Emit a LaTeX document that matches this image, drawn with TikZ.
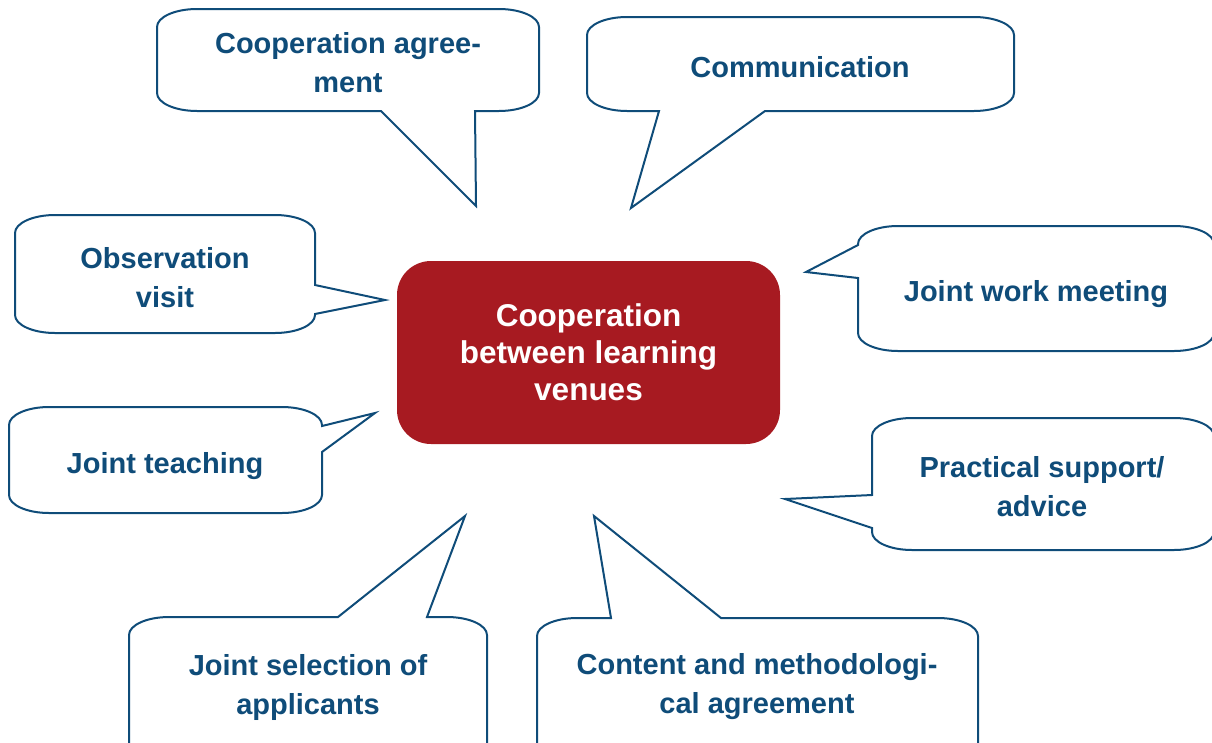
\documentclass[tikz,border=0pt]{standalone}
\usepackage{fontspec}
\setmainfont{Liberation Sans}
\definecolor{calloutblue}{HTML}{0F4C79}
\definecolor{hubred}{HTML}{A71A21}
\tikzset{
  bubbleline/.style={draw=calloutblue, line width=2pt, fill=white, line join=miter},
  bubbletext/.style={text=calloutblue, align=center, font=\fontsize{29}{39}\selectfont\bfseries, inner sep=0pt},
  hub/.style={fill=hubred, rounded corners=34pt, minimum width=383pt, minimum height=183pt,
    text=white, align=center, font=\fontsize{31.5}{37}\selectfont\bfseries, inner sep=0pt}
}
% speech bubble: left, top, right, bottom, then the pointer pieces inserted on
% the top, right, bottom and left sides (traced clockwise)
\newcommand{\bubble}[8]{%
  \draw[bubbleline] (#1+40,-#2) #5 -- (#3-40,-#2)
    arc[start angle=90,end angle=0,x radius=40pt,y radius=18pt] #6
    -- (#3,-#4+18) arc[start angle=0,end angle=-90,x radius=40pt,y radius=18pt] #7
    -- (#1+40,-#4) arc[start angle=-90,end angle=-180,x radius=40pt,y radius=18pt] #8
    -- (#1,-#2-18) arc[start angle=180,end angle=90,x radius=40pt,y radius=18pt] -- cycle;}
\begin{document}
\begin{tikzpicture}[x=1pt,y=1pt]
\useasboundingbox (0,0) rectangle (1212,-742);
\clip (0,0) rectangle (1212,-742);

% outline shapes of the callouts
\bubble{157}{9}{539}{111}{}{}{-- (475,-111) -- (476,-206) -- (381,-111)}{}
\bubble{587}{17}{1014}{111}{}{}{-- (765,-111) -- (631,-208) -- (659,-111)}{}
\bubble{15}{215}{315}{333}{}{-- (315,-285) -- (385,-300) -- (315,-314)}{}{}
\bubble{858}{226}{1214}{351}{}{}{}{-- (858,-278) -- (806,-272) -- (858,-245)}
\bubble{9}{407}{322}{513}{}{-- (322,-426) -- (375,-413) -- (322,-452)}{}{}
\bubble{872}{418}{1214}{550}{}{}{}{-- (872,-528) -- (785,-499) -- (872,-495)}
\bubble{129}{617}{487}{770}{-- (338,-617) -- (465,-516) -- (427,-617)}{}{}{}
\bubble{537}{618}{978}{770}{-- (611,-618) -- (594,-516) -- (721,-618)}{}{}{}

% central topic
\node[hub] (hub) at (588.5,-352.5) {Cooperation\\between learning\\venues};

% callout labels
\node[bubbletext] (coop) at (348,-63) {Cooperation agree-\\ment};
\node[bubbletext] (comm) at (800,-67) {Communication};
\node[bubbletext] (obs) at (165,-278) {Observation\\visit};
\node[bubbletext] (meet) at (1036,-294) {Joint work meeting};
\node[bubbletext] (teach) at (165,-466) {Joint teaching};
\node[bubbletext] (pract) at (1042,-487) {Practical support/\\advice};
\node[bubbletext] (select) at (308,-687) {Joint selection of\\applicants};
\node[bubbletext] (content) at (757,-687) {Content and methodologi-\\cal agreement};
\end{tikzpicture}
\end{document}
